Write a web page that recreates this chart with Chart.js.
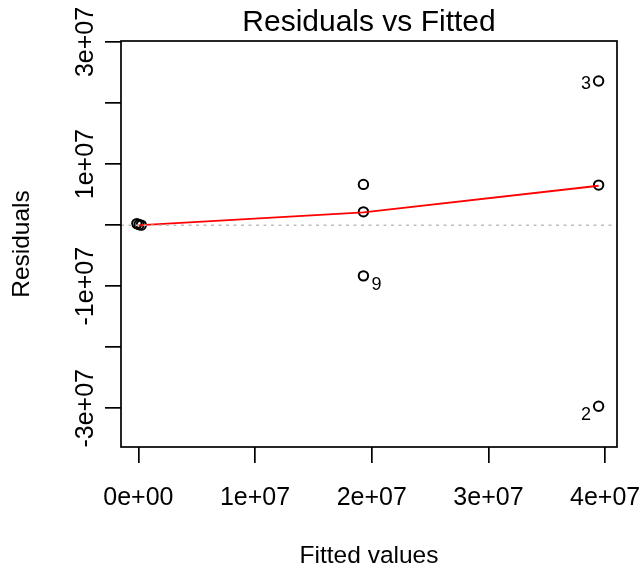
<!DOCTYPE html>
<html>
<head>
<meta charset="utf-8">
<script src="https://cdn.jsdelivr.net/npm/chart.js@4"></script>
<style>
  html, body { margin: 0; padding: 0; background: #fff; }
  canvas { display: block; }
</style>
</head>
<body>
<canvas id="c" width="641" height="573"></canvas>
<script>
// Observations of the fitted model
const obsIds = [1, 2, 3, 4, 5, 6, 7, 8, 9];
const fittedValues = [39440000, 39440000, 39440000, -130000, 60000, 250000, 19286000, 19286000, 19286000];
const residualValues = [6560000, -29670000, 23600000, 250000, 80000, 0, 6670000, 2180000, -8310000];
// Observations flagged with their id next to the point
const labelledIds = [3, 2, 9];

// Smoothed trend of the residuals
const smoothX = [-130000, 60000, 250000, 19286000, 39440000];
const smoothY = [-100000, -50000, 0, 2080000, 6450000];

// Axis ticks and ranges
const xTicks = [0, 10000000, 20000000, 30000000, 40000000];
const yTicks = [-30000000, -20000000, -10000000, 0, 10000000, 20000000, 30000000];
const yTickLabels = [-30000000, -10000000, 10000000, 30000000];
const xRange = [-1488000, 41015000];
const yRange = [-36340000, 30160000];

const FAMILY = '"Liberation Sans", Arial, Helvetica, sans-serif';

// Scientific notation in the "1e+07" style
function sci(v) {
  if (v === 0) return '0e+00';
  const e = Math.floor(Math.log10(Math.abs(v)) + 1e-9);
  const m = Math.round(v / Math.pow(10, e) * 1000) / 1000;
  const ae = Math.abs(e);
  return m + 'e' + (e < 0 ? '-' : '+') + (ae < 10 ? '0' + ae : String(ae));
}

const decor = {
  id: 'decor',
  afterDatasetsDraw(chart) {
    const { ctx, chartArea: a, scales: { y } } = chart;
    const y0 = y.getPixelForValue(0);
    ctx.save();
    ctx.strokeStyle = '#bebebe';
    ctx.lineWidth = 1.5;
    ctx.setLineDash([3, 4.5]);
    ctx.beginPath();
    ctx.moveTo(a.left, y0);
    ctx.lineTo(a.right, y0);
    ctx.stroke();
    ctx.restore();
  },
  afterDraw(chart) {
    const { ctx, chartArea: a, scales: { x, y } } = chart;
    ctx.save();
    // plot frame
    ctx.strokeStyle = '#000';
    ctx.lineWidth = 1.7;
    ctx.strokeRect(a.left, a.top, a.right - a.left, a.bottom - a.top);

    // rotated y tick labels
    ctx.fillStyle = '#000';
    ctx.font = '25px ' + FAMILY;
    ctx.textAlign = 'center';
    ctx.textBaseline = 'alphabetic';
    yTickLabels.forEach(v => {
      const py = y.getPixelForValue(v);
      ctx.save();
      ctx.translate(a.left - 28, py);
      ctx.rotate(-Math.PI / 2);
      ctx.fillText(sci(v), 0, 0);
      ctx.restore();
    });

    // observation ids
    ctx.font = '18px ' + FAMILY;
    ctx.textBaseline = 'middle';
    const midX = (x.min + x.max) / 2;
    labelledIds.forEach(id => {
      const i = obsIds.indexOf(id);
      const px = x.getPixelForValue(fittedValues[i]);
      const py = y.getPixelForValue(residualValues[i]);
      const dy = residualValues[i] < 0 ? 9 : 3;
      if (fittedValues[i] > midX) {
        ctx.textAlign = 'right';
        ctx.fillText(String(id), px - 7.5, py + dy);
      } else {
        ctx.textAlign = 'left';
        ctx.fillText(String(id), px + 8, py + dy);
      }
    });
    ctx.restore();
  }
};

const tickFont = { family: FAMILY, size: 25, weight: 'normal' };
const axisFont = { family: FAMILY, size: 24.5, weight: 'normal' };
const tickGrid = { drawOnChartArea: false, drawTicks: true, tickLength: 16, color: '#000', lineWidth: 1.7 };

new Chart(document.getElementById('c'), {
  type: 'scatter',
  data: {
    datasets: [
      {
        type: 'line',
        data: smoothX.map((v, i) => ({ x: v, y: smoothY[i] })),
        borderColor: '#ff0000',
        borderWidth: 1.8,
        pointRadius: 0,
        fill: false,
        tension: 0,
        order: 0
      },
      {
        data: fittedValues.map((v, i) => ({ x: v, y: residualValues[i] })),
        pointStyle: 'circle',
        pointRadius: 4.7,
        pointBorderWidth: 2,
        pointBackgroundColor: 'rgba(0,0,0,0)',
        pointBorderColor: '#000',
        pointHoverRadius: 4.7,
        order: 1
      }
    ]
  },
  options: {
    responsive: false,
    animation: false,
    devicePixelRatio: 1,
    events: [],
    layout: { padding: { left: 0, right: 24, top: 0, bottom: 0 } },
    plugins: {
      legend: { display: false },
      tooltip: { enabled: false },
      title: {
        display: true,
        text: 'Residuals vs Fitted',
        fullSize: false,
        color: '#000',
        font: { family: FAMILY, size: 30, weight: 'normal' },
        padding: { top: 5, bottom: 0 }
      }
    },
    scales: {
      x: {
        type: 'linear',
        min: xRange[0],
        max: xRange[1],
        afterBuildTicks: s => { s.ticks = xTicks.map(v => ({ value: v })); },
        afterFit: s => { s.height = 126; s.paddingLeft = 0; s.paddingRight = 0; },
        border: { display: false },
        grid: tickGrid,
        ticks: {
          color: '#000',
          font: tickFont,
          padding: 20,
          maxRotation: 0,
          minRotation: 0,
          autoSkip: false,
          callback: v => sci(v)
        },
        title: {
          display: true,
          text: 'Fitted values',
          color: '#000',
          font: axisFont,
          padding: { top: 0, bottom: 2 }
        }
      },
      y: {
        type: 'linear',
        min: yRange[0],
        max: yRange[1],
        afterBuildTicks: s => { s.ticks = yTicks.map(v => ({ value: v })); },
        afterFit: s => { s.width = 121; s.paddingTop = 0; s.paddingBottom = 0; },
        border: { display: false },
        grid: tickGrid,
        ticks: { display: false },
        title: {
          display: true,
          text: 'Residuals',
          color: '#000',
          font: axisFont,
          padding: { top: 8, bottom: 0 }
        }
      }
    }
  },
  plugins: [decor]
});
</script>
</body>
</html>
